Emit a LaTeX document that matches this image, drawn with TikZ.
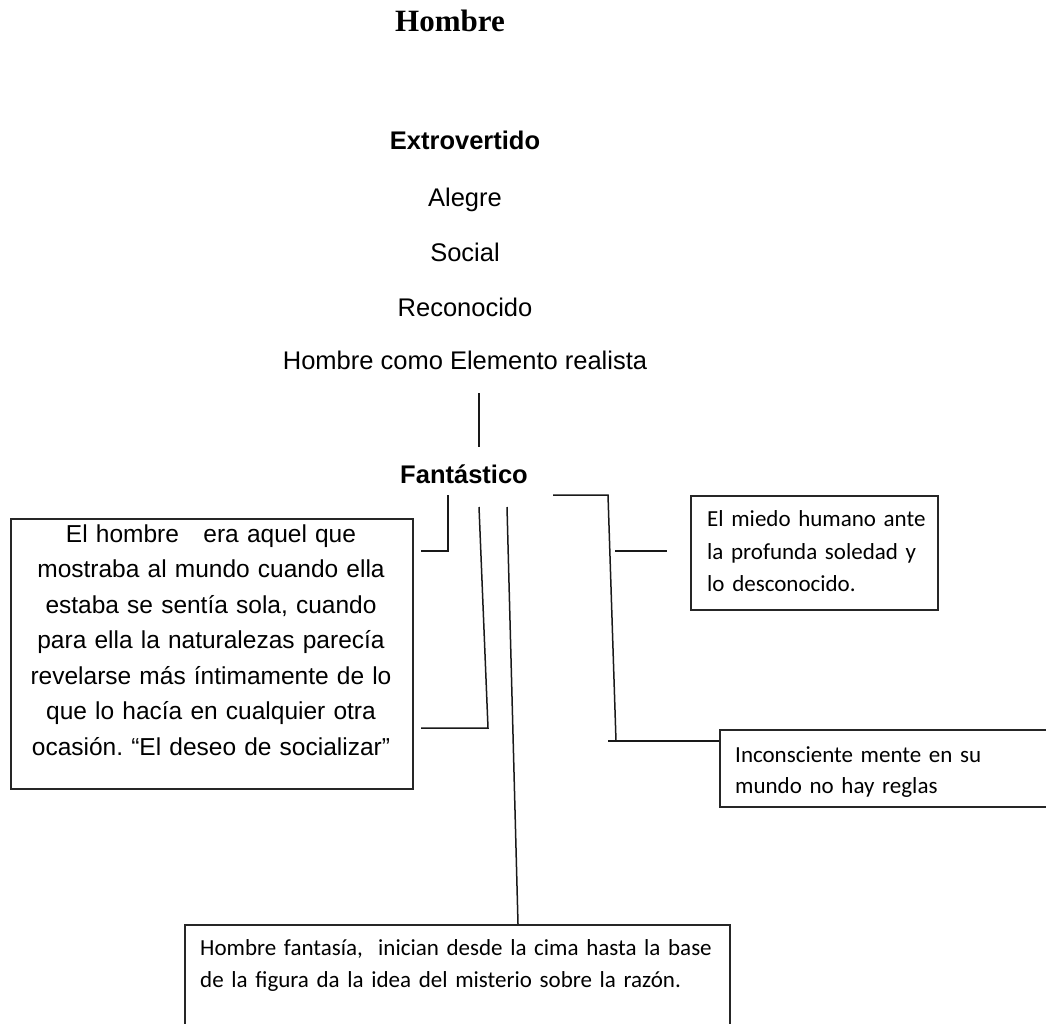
\documentclass[tikz,border=0pt]{standalone}
\usepackage{fontspec}
\setmainfont{Liberation Sans}
\newfontfamily\serifttl{Liberation Serif}
\newfontfamily\calib{Carlito}
\frenchspacing
\begin{document}
\begin{tikzpicture}[x=1pt,y=-1pt,
  arialtxt/.style={font=\fontsize{25.5}{30}\selectfont, inner sep=0pt, anchor=base},
  boldtxt/.style={font=\fontsize{25.5}{30}\selectfont\bfseries, inner sep=0pt, anchor=base},
  titletxt/.style={font=\serifttl\fontsize{31}{36}\selectfont\bfseries, inner sep=0pt, anchor=base},
  boxframe/.style={draw=black!85, line width=1.5pt, inner sep=0pt, anchor=north west, rectangle},
  leftpara/.style={font=\frenchspacing\fontsize{24.5}{35.5}\selectfont, inner sep=0pt, anchor=base, text width=400pt, align=center},
  calpara/.style={font=\calib\fontsize{23}{#1}\selectfont, inner sep=0pt, anchor=base west, align=left},
  link/.style={draw=black!90, line width=1.5pt}
]
\useasboundingbox (0,0) rectangle (1046,1023);
\clip (0,0) rectangle (1046,1023);

% titles and list
\node[titletxt] (title) at (450,31) {Hombre};
\node[boldtxt] (extro) at (465,149) {Extrovertido};
\node[arialtxt] (alegre) at (465,206) {Alegre};
\node[arialtxt] (social) at (465,261.5) {Social};
\node[arialtxt] (recon) at (465,316) {Reconocido};
\node[arialtxt] (realista) at (465,369) {Hombre como Elemento realista};
\node[boldtxt] (fant) at (464,483) {Fantástico};

% boxes
\node[boxframe, minimum width=402pt, minimum height=270pt] (leftbox) at (10,518) {};
\node[leftpara] (lefttxt) at (211,542) {El hombre\ \ \ era aquel que\\mostraba al mundo cuando ella\\estaba se sentía sola, cuando\\para ella la naturalezas parecía\\revelarse más íntimamente de lo\\que lo hacía en cualquier otra\\ocasión. “El deseo de socializar”};

\node[boxframe, minimum width=247pt, minimum height=114pt] (box1) at (690,495) {};
\node[calpara=32.5, text width=225pt] (box1txt) at (707,526.7) {El miedo humano ante\\la profunda soledad y\\lo desconocido.};

\node[boxframe, minimum width=360pt, minimum height=77pt] (box2) at (719,729) {};
\node[calpara=30.5, text width=300pt] (box2txt) at (735,762.7) {Inconsciente mente en su\\mundo no hay reglas};

\node[boxframe, minimum width=545pt, minimum height=130pt] (box3) at (184,924) {};
\node[calpara=32, text width=525pt] (box3txt) at (200,955) {Hombre fantasía,\ \ inician desde la cima hasta la base\\de la figura da la idea del misterio sobre la razón.};

% connectors
\coordinate (v1a) at (479,393);
\coordinate (v1b) at (479,447);
\draw[link] (v1a) -- (v1b);

\coordinate (l1a) at (421,551);
\coordinate (l1b) at (448,551);
\coordinate (l1c) at (448,495);
\draw[link] (l1a) -- (l1b) -- (l1c);

\coordinate (l2a) at (421,728);
\coordinate (l2b) at (488,728);
\coordinate (l2c) at (479,507);
\draw[link] (l2a) -- (l2b) -- (l2c);

\coordinate (l3a) at (507,507);
\coordinate (l3b) at (518,924);
\draw[link] (l3a) -- (l3b);

\coordinate (r1a) at (553,495);
\coordinate (r1b) at (608,495);
\coordinate (r1c) at (616,741);
\coordinate (r1d) at (608,741);
\coordinate (r1e) at (719,741);
\draw[link] (r1a) -- (r1b) -- (r1c);
\draw[link] (r1d) -- (r1e);

\coordinate (s1a) at (615,551);
\coordinate (s1b) at (667,551);
\draw[link] (s1a) -- (s1b);
\end{tikzpicture}
\end{document}
